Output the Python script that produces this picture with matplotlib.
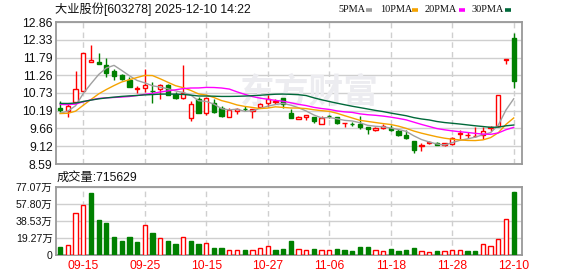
import matplotlib
matplotlib.use('Agg')
import matplotlib.pyplot as plt
from matplotlib.lines import Line2D
import numpy as np
import pandas as pd

plt.rcParams['font.family'] = ['Liberation Sans', 'Noto Sans CJK SC', 'DejaVu Sans']

title = '大业股份[603278] 2025-12-10 14:22'

dates = ['09-10', '09-11', '09-12', '09-15', '09-16', '09-17', '09-18', '09-19', '09-22', '09-23',
         '09-24', '09-25', '09-26', '09-29', '09-30', '10-09', '10-10', '10-13', '10-14', '10-15',
         '10-16', '10-17', '10-20', '10-21', '10-22', '10-23', '10-24', '10-27', '10-28', '10-29',
         '10-30', '10-31', '11-03', '11-04', '11-05', '11-06', '11-07', '11-10', '11-11', '11-12',
         '11-13', '11-14', '11-17', '11-18', '11-19', '11-20', '11-21', '11-24', '11-25', '11-26',
         '11-27', '11-28', '12-01', '12-02', '12-03', '12-04', '12-05', '12-08', '12-09', '12-10']

opens = [10.26, 10.18, 10.46, 10.80, 11.67, 11.66, 11.57, 11.40, 11.27, 11.12,
         10.84, 10.89, 10.80, 10.84, 10.96, 10.68, 10.56, 9.97, 10.54, 10.12,
         10.43, 10.27, 10.00, 10.19, 10.25, 10.19, 10.30, 10.42, 10.46, 10.57,
         10.13, 9.95, 10.01, 9.99, 9.80, 10.04, 10.00, 9.81, 9.80, 9.79,
         9.70, 9.62, 9.67, 9.67, 9.59, 9.47, 9.28, 9.12, 9.22, 9.23,
         9.15, 9.20, 9.50, 9.45, 9.42, 9.47, 9.67, 9.74, 11.73, 12.37]
highs = [10.48, 10.40, 11.39, 11.92, 12.17, 11.93, 11.79, 11.45, 11.30, 11.20,
         10.94, 11.45, 11.07, 11.00, 10.99, 10.76, 11.57, 10.49, 10.60, 10.60,
         10.54, 10.32, 10.28, 10.28, 10.32, 10.25, 10.43, 10.65, 10.54, 10.57,
         10.24, 10.02, 10.06, 10.01, 10.02, 10.07, 10.01, 9.82, 9.845, 10.03,
         9.70, 9.69, 9.78, 9.75, 9.64, 9.60, 9.28, 9.21, 9.28, 9.24,
         9.22, 9.41, 9.61, 9.54, 9.71, 9.69, 9.73, 10.66, 11.73, 12.52]
lows = [10.16, 10.01, 10.45, 10.78, 11.65, 11.59, 11.20, 11.11, 11.12, 10.90,
        10.72, 10.77, 10.42, 10.55, 10.66, 10.55, 10.55, 9.88, 10.11, 10.07,
        10.12, 10.01, 10.00, 10.09, 10.19, 9.98, 10.27, 10.30, 10.40, 10.27,
        9.96, 9.95, 9.91, 9.83, 9.80, 9.97, 9.80, 9.71, 9.74, 9.65,
        9.50, 9.58, 9.65, 9.57, 9.42, 9.34, 8.93, 8.99, 9.18, 9.16,
        9.14, 9.17, 9.35, 9.38, 9.39, 9.34, 9.59, 9.74, 11.60, 10.89]
closes = [10.21, 10.33, 10.84, 11.92, 11.72, 11.59, 11.32, 11.23, 11.16, 10.92,
          10.88, 10.96, 10.79, 10.96, 10.67, 10.56, 10.72, 10.39, 10.12, 10.57,
          10.15, 10.03, 10.21, 10.24, 10.23, 10.24, 10.39, 10.54, 10.49, 10.40,
          9.97, 10.01, 10.05, 9.89, 9.96, 10.03, 9.82, 9.815, 9.79, 9.70,
          9.64, 9.68, 9.73, 9.61, 9.47, 9.37, 9.01, 9.17, 9.24, 9.17,
          9.21, 9.37, 9.52, 9.46, 9.43, 9.57, 9.69, 10.66, 11.73, 11.10]
# volume in 万股
volumes = [9.4, 11.3, 47.4, 56.4, 70.7, 39.9, 36.5, 20.7, 16.2, 20.7,
           15.0, 33.9, 25.2, 19.2, 16.2, 12.8, 20.3, 16.2, 12.8, 13.5,
           8.3, 7.5, 5.6, 5.6, 6.0, 6.0, 8.3, 10.2, 6.0, 7.2,
           16.2, 6.8, 5.6, 7.2, 6.0, 6.0, 7.2, 6.0, 4.9, 9.4,
           8.7, 6.0, 4.9, 6.4, 4.9, 5.3, 8.3, 4.9, 3.8, 4.1,
           4.9, 6.0, 6.0, 4.1, 4.9, 12.4, 10.5, 18.4, 41.0, 71.56]
# closes before the visible window, estimated from where the MA lines start
prior_closes = [10.40, 10.45, 10.52, 10.48, 10.42, 10.50, 10.55, 10.48, 10.45, 10.50,
                10.45, 10.50, 10.55, 10.60, 10.70, 10.95, 11.00, 10.90, 10.60, 10.30,
                10.25, 10.20, 10.14, 10.00, 9.90, 10.00, 10.04, 10.08, 10.25]
last_volume = '715629'

price_ticks = [8.59, 9.12, 9.66, 10.19, 10.73, 11.26, 11.79, 12.33, 12.86]
price_tick_labels = ['8.59', '9.12', '9.66', '10.19', '10.73', '11.26', '11.79', '12.33', '12.86']
vol_ticks = [0, 19.27, 38.53, 57.80, 77.07]
vol_tick_labels = ['0', '19.27万', '38.53万', '57.80万', '77.07万']
date_ticks = ['09-15', '09-25', '10-15', '10-27', '11-06', '11-18', '11-28', '12-10']

ma_windows = [5, 10, 20, 30]
ma_names = ['5PMA', '10PMA', '20PMA', '30PMA']
ma_colors = ['#a0a0a0', '#f5a300', '#ff00ff', '#00693a']

RED = '#ff0000'
GREEN = '#008000'
GRID = '#cfcfcf'
SPINE = '#999999'

W, H = 578, 276


def rect(l, t, r, b):
    return [l / W, 1 - b / H, (r - l) / W, (b - t) / H]


fig = plt.figure(figsize=(W / 100, H / 100), dpi=100)
ax_p = fig.add_axes(rect(56, 22, 522, 164))
ax_v = fig.add_axes(rect(56, 187, 522, 255))

x = np.arange(len(dates))
o = np.array(opens)
h = np.array(highs)
l = np.array(lows)
c = np.array(closes)
v = np.array(volumes)
prev = np.concatenate([[prior_closes[-1]], c[:-1]])

candle_up = np.where(c != o, c > o, c >= prev)
vol_up = c > prev
col = np.where(candle_up, RED, GREEN)
face = np.where(candle_up, 'white', GREEN)

# watermark
ax_p.text(0.543, 0.51, '东方财富', transform=ax_p.transAxes, ha='center', va='center',
          fontsize=25, color='#ececf0', fontweight='bold', family=['Noto Sans CJK SC'], zorder=0.6)

# candles
ax_p.vlines(x, l, h, colors=col, lw=1, zorder=3)
ax_p.bar(x, np.maximum(np.abs(c - o), 0.008), bottom=np.minimum(o, c), width=0.56,
         color=face, edgecolor=col, linewidth=1, zorder=4)

# moving averages
s = pd.Series(prior_closes + closes)
for w, name, mc in zip(ma_windows, ma_names, ma_colors):
    ma = s.rolling(w).mean().values[-len(closes):]
    ax_p.plot(x, ma, color=mc, lw=1, zorder=5)

# volume
vcol = np.where(vol_up, RED, GREEN)
vface = np.where(vol_up, 'white', GREEN)
ax_v.bar(x, v, width=0.56, color=vface, edgecolor=vcol, linewidth=1, zorder=3)

tick_pos = [dates.index(d) for d in date_ticks]
for ax in (ax_p, ax_v):
    ax.set_xlim(-0.55, 60.08)
    ax.set_xticks(tick_pos)
    ax.xaxis.grid(True, color=GRID, lw=1, ls=(0, (4, 3)), zorder=1)
    ax.yaxis.grid(True, color=GRID, lw=1, ls='-', zorder=1)
    ax.set_axisbelow(True)
    for sp in ax.spines.values():
        sp.set_color(SPINE)
        sp.set_linewidth(1.3)
    ax.tick_params(length=0)

ax_p.set_ylim(price_ticks[0], price_ticks[-1])
ax_p.set_yticks(price_ticks, labels=price_tick_labels)
ax_p.tick_params(axis='y', labelsize=8.8, pad=2.4, labelcolor='#111111')
ax_p.tick_params(axis='x', labelbottom=False)

ax_v.set_ylim(vol_ticks[0], vol_ticks[-1])
ax_v.set_yticks(vol_ticks, labels=vol_tick_labels)
ax_v.tick_params(axis='y', labelsize=7.6, pad=2.4, labelcolor='#111111')
ax_v.set_xticklabels(date_ticks)
ax_v.tick_params(axis='x', labelsize=8.8, pad=3.6, labelcolor=RED)

# title & labels
fig.text(55 / W, 1 - 9.5 / H, title, ha='left', va='center', fontsize=8.8, color='#111111')
fig.text(57 / W, 1 - 177.7 / H, '成交量:' + last_volume, ha='left', va='center',
         fontsize=8.8, color='#111111')

# legend
leg_text_x = [338.7, 379.7, 425.0, 471.0]
leg_dash_x = [365.5, 412.0, 458.7, 505.0]
for name, mc, tx, dx in zip(ma_names, ma_colors, leg_text_x, leg_dash_x):
    fig.text(tx / W, 1 - 9 / H, name, ha='left', va='center', fontsize=7.4,
             family=['Liberation Serif'], color='#111111')
    fig.add_artist(Line2D([dx / W, (dx + 6) / W], [1 - 9.5 / H, 1 - 9.5 / H],
                          color=mc, lw=2.6, solid_capstyle='butt'))

fig.savefig('out.png', dpi=100)
